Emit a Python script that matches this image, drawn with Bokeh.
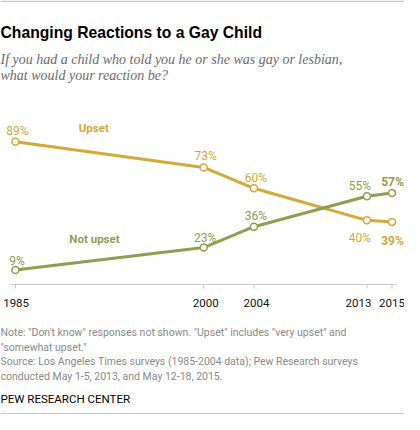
from bokeh.core.properties import value
from bokeh.embed import file_html
from bokeh.models import ColumnDataSource, Label, Range1d, Span
from bokeh.plotting import figure
from bokeh.resources import INLINE

# data
years = [1985, 2000, 2004, 2013, 2015]
year_labels = ["1985", "2000", "2004", "2013", "2015"]
upset = [89, 73, 60, 40, 39]
not_upset = [9, 23, 36, 55, 57]

title = "Changing Reactions to a Gay Child"
subtitle = ["If you had a child who told you he or she was gay or lesbian,",
            "what would your reaction be?"]
notes = ['Note: "Don\'t know" responses not shown. "Upset" includes  "very upset" and',
         '"somewhat upset."',
         "Source: Los Angeles Times surveys (1985-2004 data); Pew Research surveys",
         "conducted May 1-5, 2013, and May 12-18, 2015."]
credit = "PEW RESEARCH CENTER"

GOLD = "#D3A938"
OLIVE = "#919D4F"
GREY_TXT = "#8a8a8a"
FONT = "Roboto"

W, H = 404, 414
# pixel layout of the plot area (canvas coords from top-left)
x0_px, px_year = 14.9, 12.555
y0_px, px_pct = 283.9, 1.602

p = figure(width=W, height=H, output_backend="svg", toolbar_location=None,
           x_axis_type=None, y_axis_type=None,
           x_range=Range1d(years[0] - x0_px / px_year, years[0] + (W - x0_px) / px_year),
           y_range=Range1d(-(H - y0_px) / px_pct, y0_px / px_pct),
           min_border=0, outline_line_color=None)
p.xgrid.visible = False
p.ygrid.visible = False
p.background_fill_color = "white"
p.border_fill_color = "white"

src = ColumnDataSource(dict(year=years, label=year_labels, upset=upset, not_upset=not_upset,
                            zero=[0] * len(years), tick=[-2.6] * len(years)))

# horizontal rules top and bottom
p.add_layout(Span(location=H - 0.8, location_units="screen", dimension="width",
                  line_color="#c6c6c6", line_width=1.5))
p.add_layout(Span(location=0.8, location_units="screen", dimension="width",
                  line_color="#c6c6c6", line_width=1.5))

# x axis
p.segment(x0=years[0] - 0.38, x1=years[-1] + 0.4, y0=0, y1=0, line_color="#c4c4c4", line_width=1)
p.segment(x0="year", x1="year", y0="zero", y1="tick", source=src, line_color="#c4c4c4", line_width=1)
lab_dx = [0.7, 2, 2.5, -8.5, 0]
p.text(x=years, y=[0] * len(years), text=year_labels, x_offset=lab_dx, y_offset=18.6,
       text_align="center", text_baseline="alphabetic", text_font=value(FONT),
       text_font_size="11.5px", text_color="#111111")

# lines + markers
p.line("year", "upset", source=src, line_color=GOLD, line_width=3)
p.line("year", "not_upset", source=src, line_color=OLIVE, line_width=3)
p.scatter("year", "upset", source=src, size=7, fill_color="white", line_color=GOLD, line_width=1.5)
p.scatter("year", "not_upset", source=src, size=7, fill_color="white", line_color=OLIVE, line_width=1.5)

# value labels
up_dx = [2, 2, 2, -7, 0.5]
up_dy = [-10.5, -11, -10.5, 17.5, 19]
no_dx = [1.5, 1.5, 2, -7, 0.5]
no_dy = [-9.3, -10, -10.3, -10.5, -11]
for i in range(len(years)):
    style = "bold" if i == len(years) - 1 else "normal"
    p.text(x=[years[i]], y=[upset[i]], text=[f"{upset[i]}%"], x_offset=up_dx[i], y_offset=up_dy[i],
           text_align="center", text_baseline="alphabetic", text_font=value(FONT),
           text_font_size="12px", text_color=GOLD, text_font_style=style)
    p.text(x=[years[i]], y=[not_upset[i]], text=[f"{not_upset[i]}%"], x_offset=no_dx[i], y_offset=no_dy[i],
           text_align="center", text_baseline="alphabetic", text_font=value(FONT),
           text_font_size="12px", text_color=OLIVE, text_font_style=style)

# series names
p.add_layout(Label(x=1991.24, y=97.4, text="Upset", text_align="center", text_baseline="alphabetic",
                   text_font=FONT, text_font_size="11.5px", text_font_style="bold", text_color=GOLD))
p.add_layout(Label(x=1991.3, y=28.3, text="Not upset", text_align="center", text_baseline="alphabetic",
                   text_font=FONT, text_font_size="11.5px", text_font_style="bold", text_color=OLIVE))

# header
p.add_layout(Label(x=0, y=382.5, x_units="screen", y_units="screen", text=title,
                   text_font="Liberation Sans", text_font_size="15.7px", text_font_style="bold",
                   text_color="#000000", text_baseline="alphabetic"))
for i, line in enumerate(subtitle):
    p.add_layout(Label(x=0, y=355.2 - 16.1 * i, x_units="screen", y_units="screen", text=line,
                       text_font="Liberation Serif", text_font_size="14px", text_font_style="italic",
                       text_color="#6b6b6b", text_baseline="alphabetic"))

# footer
for i, line in enumerate(notes):
    p.add_layout(Label(x=0, y=81.8 - 14.45 * i, x_units="screen", y_units="screen", text=line,
                       text_font=FONT, text_font_size="10.5px", text_color=GREY_TXT,
                       text_baseline="alphabetic"))
p.add_layout(Label(x=0, y=15.8, x_units="screen", y_units="screen", text=credit,
                   text_font=FONT, text_font_size="11.5px", text_color="#000000",
                   text_baseline="alphabetic"))

open("out.html", "w").write(file_html(p, INLINE))
